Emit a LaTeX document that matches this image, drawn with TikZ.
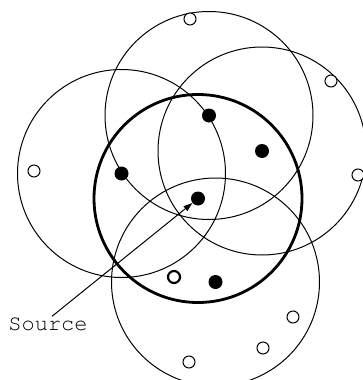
\documentclass[tikz,border=0pt]{standalone}
\usepackage{fontspec}
\setmonofont{texgyrecursor-regular.otf}
\usetikzlibrary{arrows.meta}
\begin{document}
\begin{tikzpicture}[x=1pt,y=-1pt,
  rangecircle/.style={circle,draw,line width=1pt,minimum size=208pt,inner sep=0pt},
  thickrange/.style={circle,draw,line width=2.8pt,minimum size=208pt,inner sep=0pt},
  full/.style={circle,fill=black,minimum size=14pt,inner sep=0pt},
  emptydot/.style={circle,draw,fill=white,line width=1pt,minimum size=12pt,inner sep=0pt},
  emptythick/.style={circle,draw,fill=white,line width=2.2pt,minimum size=12pt,inner sep=0pt}]
\useasboundingbox (0,0) rectangle (363,380);
\node[rangecircle] (cl) at (121.5,173.5) {};
\node[rangecircle] (ct) at (209,115.5) {};
\node[rangecircle] (cr) at (262,151) {};
\node[rangecircle] (cb) at (215.5,282) {};
\node[thickrange] (cs) at (198,198.5) {};
% filled dots at centres
\node[full] (dl) at (121.5,173.5) {};
\node[full] (dt) at (209,115.5) {};
\node[full] (dr) at (262,151) {};
\node[full] (db) at (215.5,282) {};
\node[full] (src) at (198,198.5) {};
% open dots
\node[emptythick] (o1) at (174,277) {};
\node[emptydot] (o2) at (190,19) {};
\node[emptydot] (o3) at (331,81) {};
\node[emptydot] (o4) at (34,171) {};
\node[emptydot] (o5) at (358,175) {};
\node[emptydot] (o6) at (293,317) {};
\node[emptydot] (o7) at (263,348) {};
\node[emptydot] (o8) at (189,362) {};
% label
\node[font=\ttfamily\fontsize{22}{24}\selectfont,inner sep=1pt] (lbl) at (48,324) {Source};
\draw[line width=1pt,-{Triangle[length=9pt,width=6pt]}] ([xshift=4pt]lbl.north) -- (src);
\end{tikzpicture}
\end{document}
